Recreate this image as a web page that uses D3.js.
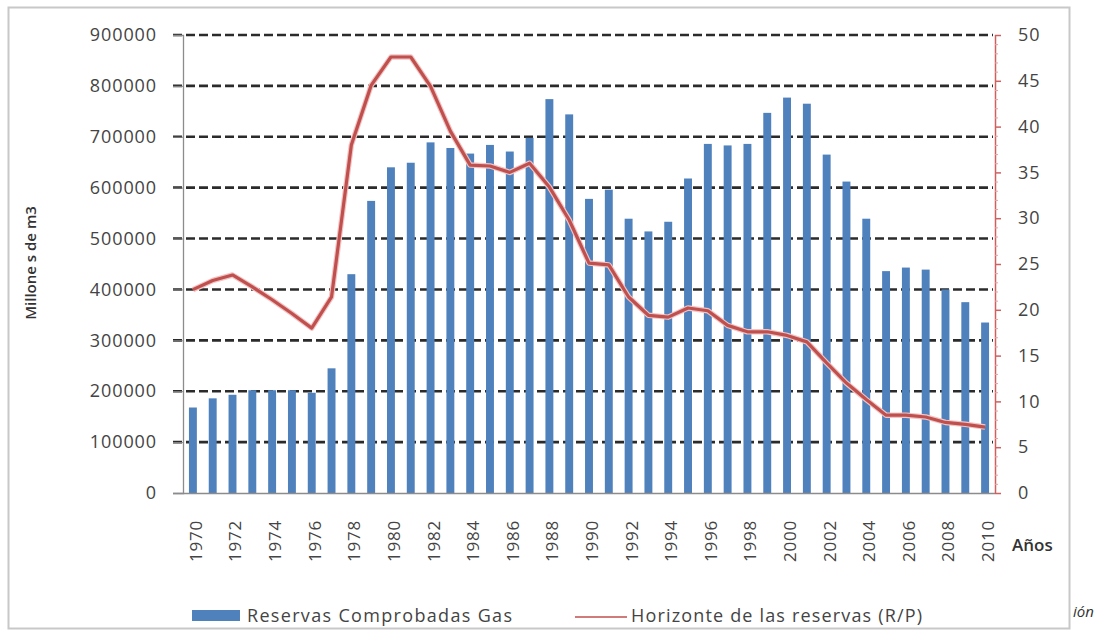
<!DOCTYPE html>
<html>
<head>
<meta charset="utf-8">
<script src="https://cdn.jsdelivr.net/npm/d3@7"></script>
<style>
  body { margin: 0; background: #fff; }
  svg { display: block; }
  text { font-family: "Open Sans", "Liberation Sans", sans-serif; }
</style>
</head>
<body>
<svg id="chart" width="1103" height="634"></svg>
<script>
const years = d3.range(1970, 2011);
const reservas = [168000, 186000, 193000, 202000, 202000, 202000, 197000, 245000, 430000, 574000,
  640000, 649000, 689000, 678000, 667000, 684000, 671000, 698000, 774000, 744000,
  578000, 596000, 539000, 514000, 533000, 618000, 686000, 683000, 686000, 747000,
  777000, 765000, 665000, 612000, 539000, 436000, 443000, 439000, 400000, 375000, 335000];
const horizonte = [22.2, 23.2, 23.8, 22.5, 21.1, 19.6, 18.0, 21.4, 38.0, 44.5,
  47.6, 47.6, 44.4, 39.5, 35.8, 35.7, 35.0, 36.0, 33.4, 29.8,
  25.1, 24.9, 21.4, 19.4, 19.2, 20.2, 19.9, 18.3, 17.6, 17.6,
  17.2, 16.5, 14.2, 12.0, 10.2, 8.5, 8.5, 8.3, 7.7, 7.5, 7.2];
const leftTicks = d3.range(0, 900001, 100000);
const rightTicks = d3.range(0, 51, 5);
const yearLabels = years.filter(y => y % 2 === 0);
const seriesNames = ["Reservas Comprobadas Gas", "Horizonte de las reservas (R/P)"];

(function () {
const svg = d3.select("#chart");
const pLeft = 183, pRight = 995, pTop = 35, pBottom = 493;
const barColor = "#4F81BD", lineColor = "#C0504D";

// frame
svg.append("rect").attr("x", 8.5).attr("y", 7.5).attr("width", 1061).attr("height", 621)
  .attr("fill", "none").attr("stroke", "#c8c8c8").attr("stroke-width", 2);

const x = d3.scaleBand().domain(years).range([pLeft, pRight]).paddingInner(0.6).paddingOuter(0.3);
const yL = d3.scaleLinear().domain([0, 900000]).range([pBottom, pTop]);
const yR = d3.scaleLinear().domain([0, 50]).range([pBottom, pTop]);

// gridlines
svg.append("g").selectAll("line").data(leftTicks.filter(d => d > 0)).join("line")
  .attr("x1", 173).attr("x2", pRight - 2)
  .attr("y1", d => yL(d)).attr("y2", d => yL(d))
  .attr("stroke", "#2b2b2b").attr("stroke-width", 2.6).attr("stroke-dasharray", "9,4");

// left axis
const axL = svg.append("g").attr("transform", `translate(${pLeft},0)`)
  .call(d3.axisLeft(yL).tickValues(leftTicks).tickSize(10).tickPadding(16).tickFormat(d3.format("d")));
axL.select(".domain").attr("stroke", "#8c8c8c").attr("stroke-width", 1.3);
axL.selectAll(".tick line").attr("stroke", "#8c8c8c");
axL.selectAll("text").attr("font-size", 18).attr("fill", "#444").attr("letter-spacing", "0.9px")
  .attr("font-family", "Open Sans");

// bars
svg.append("g").selectAll("rect").data(years).join("rect")
  .attr("x", (d) => x(d)).attr("width", x.bandwidth())
  .attr("y", (d, i) => yL(reservas[i])).attr("height", (d, i) => pBottom - yL(reservas[i]))
  .attr("fill", barColor);

// bottom axis
const axB = svg.append("g").attr("transform", `translate(0,${pBottom})`)
  .call(d3.axisBottom(x).tickValues(yearLabels).tickSize(0).tickPadding(0));
axB.select(".domain").attr("stroke", "#8c8c8c").attr("stroke-width", 1.3)
  .attr("d", `M${173},0.5H${pRight}`);
axB.selectAll("text").attr("font-size", 17).attr("fill", "#444").attr("letter-spacing", "0.8px")
  .attr("text-anchor", "end").attr("transform", "translate(3,27) rotate(-90)").attr("dy", "0.35em");

// right axis
const axR = svg.append("g").attr("transform", `translate(${pRight},0)`)
  .call(d3.axisRight(yR).tickValues(rightTicks).tickSize(6).tickPadding(17));
axR.select(".domain").attr("stroke", "#d06060").attr("stroke-width", 1.5).attr("d", `M0.5,${pTop}V${pBottom}`);
axR.selectAll(".tick line").attr("stroke", "#d06060").attr("stroke-width", 1.5);
axR.selectAll("text").attr("font-size", 18).attr("fill", "#444").attr("letter-spacing", "0.9px");
axR.append("g").selectAll("line").data(d3.range(0, 51, 1).filter(d => d % 5 !== 0)).join("line")
  .attr("x1", 0).attr("x2", 3).attr("y1", d => yR(d) + 0.5).attr("y2", d => yR(d) + 0.5)
  .attr("stroke", "#e8a0a0").attr("stroke-width", 1);

// line
const line = d3.line().x((d, i) => x(years[i]) + x.bandwidth() / 2).y(d => yR(d));
svg.append("path").datum(horizonte).attr("d", line)
  .attr("fill", "none").attr("stroke", "#f2c4c4").attr("stroke-width", 5.5).attr("stroke-linejoin", "round");
svg.append("path").datum(horizonte).attr("d", line)
  .attr("fill", "none").attr("stroke", lineColor).attr("stroke-width", 3.2).attr("stroke-linejoin", "round");

// axis titles
svg.append("text").attr("transform", "translate(36,263) rotate(-90)").attr("text-anchor", "middle")
  .attr("font-size", 15).attr("fill", "#333").attr("font-weight", 600).text("Millone s de m3");
svg.append("text").attr("x", 1012).attr("y", 551).attr("font-size", 17).attr("fill", "#333")
  .attr("font-weight", 600).text("Años");

// legend
svg.append("rect").attr("x", 192).attr("y", 610).attr("width", 48).attr("height", 11).attr("fill", barColor);
svg.append("text").attr("x", 247).attr("y", 622).attr("font-size", 18).attr("fill", "#444")
  .attr("textLength", 265).attr("lengthAdjust", "spacing").text(seriesNames[0]);
svg.append("line").attr("x1", 575).attr("x2", 627).attr("y1", 617).attr("y2", 617)
  .attr("stroke", lineColor).attr("stroke-width", 2).attr("opacity", 0.75);
svg.append("text").attr("x", 631).attr("y", 622).attr("font-size", 18).attr("fill", "#444")
  .attr("textLength", 291).attr("lengthAdjust", "spacing").text(seriesNames[1]);

svg.append("text").attr("x", 1073).attr("y", 617).attr("font-size", 15).attr("font-style", "italic")
  .attr("fill", "#333").text("ión");
})();
</script>
</body>
</html>
